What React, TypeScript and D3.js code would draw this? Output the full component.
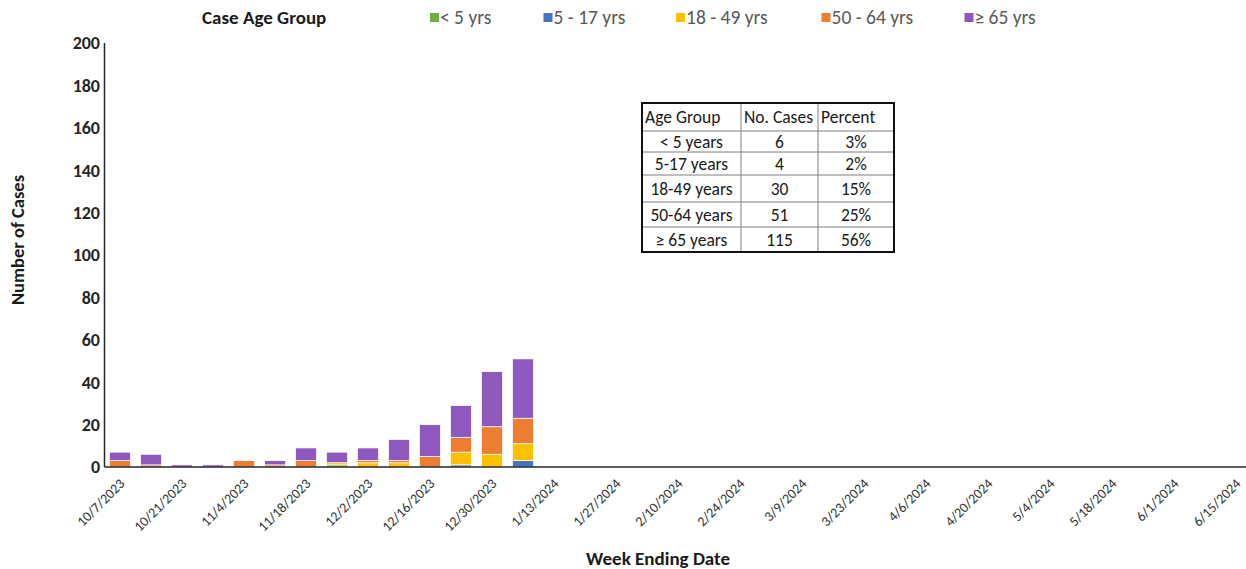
import React from "react";
import * as d3 from "d3";

const weekDates = [
  "10/7/2023", "10/14/2023", "10/21/2023", "10/28/2023", "11/4/2023", "11/11/2023",
  "11/18/2023", "11/25/2023", "12/2/2023", "12/9/2023", "12/16/2023", "12/23/2023",
  "12/30/2023", "1/6/2024", "1/13/2024", "1/20/2024", "1/27/2024", "2/3/2024",
  "2/10/2024", "2/17/2024", "2/24/2024", "3/2/2024", "3/9/2024", "3/16/2024",
  "3/23/2024", "3/30/2024", "4/6/2024", "4/13/2024", "4/20/2024", "4/27/2024",
  "5/4/2024", "5/11/2024", "5/18/2024", "5/25/2024", "6/1/2024", "6/8/2024", "6/15/2024",
];

const tickLabels = [
  "10/7/2023", "10/21/2023", "11/4/2023", "11/18/2023", "12/2/2023", "12/16/2023",
  "12/30/2023", "1/13/2024", "1/27/2024", "2/10/2024", "2/24/2024", "3/9/2024",
  "3/23/2024", "4/6/2024", "4/20/2024", "5/4/2024", "5/18/2024", "6/1/2024", "6/15/2024",
];

// weekly counts (first 14 weeks have data)
const under5 = [0, 0, 0, 0, 0, 0, 0, 1, 0, 0, 0, 0, 0, 0];
const age5to17 = [0, 0, 0, 0, 0, 0, 0, 0, 0, 0, 0, 1, 0, 3];
const age18to49 = [0, 0, 0, 0, 0, 0, 0, 1, 2, 2, 0, 6, 6, 8];
const age50to64 = [3, 1, 0, 0, 3, 1, 3, 0, 1, 1, 5, 7, 13, 12];
const age65plus = [4, 5, 1, 1, 0, 2, 6, 5, 6, 10, 15, 15, 26, 28];

const seriesNames = ["< 5 yrs", "5 - 17 yrs", "18 - 49 yrs", "50 - 64 yrs", "\u2265 65 yrs"];
const seriesColors = ["#70AD47", "#4472C4", "#FFC000", "#ED7D31", "#8E59BF"];
const seriesValues = [under5, age5to17, age18to49, age50to64, age65plus];

const yTicks = [0, 20, 40, 60, 80, 100, 120, 140, 160, 180, 200];

const tableHeader = ["Age Group", "No. Cases", "Percent"];
const tableGroups = ["< 5 years", "5-17 years", "18-49 years", "50-64 years", "\u2265 65 years"];
const tableCases = ["6", "4", "30", "51", "115"];
const tablePercent = ["3%", "2%", "15%", "25%", "56%"];

const FONT = "Carlito, Lato, 'Open Sans', sans-serif";

export default function App() {
  const W = 1246;
  const H = 569;
  const x0 = 104.5;
  const step = 31;
  const yBase = 467;
  const yTop = 43;

  const x = d3
    .scaleBand<string>()
    .domain(weekDates)
    .range([x0, x0 + step * weekDates.length])
    .paddingInner(0.32)
    .paddingOuter(0.16);
  const y = d3.scaleLinear().domain([0, 200]).range([yBase, yTop]);

  const rows = under5.map((_, i) => {
    const r: any = { date: weekDates[i] };
    seriesNames.forEach((n, k) => (r[n] = seriesValues[k][i]));
    return r;
  });
  const stacked = d3.stack<any>().keys(seriesNames)(rows);

  // legend positions
  const legendX = [430, 543.5, 676, 821.5, 964.5];

  // table layout
  const tX = [642, 741, 818, 894];
  const tY = [103, 131, 152, 175, 202, 227, 252];

  return (
    <svg
      width={W}
      height={H}
      style={{ position: "absolute", left: 0, top: 0, background: "#fff" }}
      fontFamily={FONT}
    >
      <rect width={W} height={H} fill="#fff" />
      {/* legend */}
      <text x={202} y={24} fontSize={19} fontWeight="bold" fill="#1a1a1a">
        Case Age Group
      </text>
      {seriesNames.map((n, k) => (
        <g key={n}>
          <rect x={legendX[k]} y={13} width={9} height={9} fill={seriesColors[k]} />
          <text x={legendX[k] + 10} y={24} fontSize={19.5} fill="#595959">
            {n}
          </text>
        </g>
      ))}

      {/* bars */}
      {stacked.map((s, k) => (
        <g key={s.key} fill={seriesColors[k]}>
          {s.map((d, i) =>
            d[1] - d[0] > 0 ? (
              <rect
                key={i}
                x={x(weekDates[i])}
                y={y(d[1])}
                width={x.bandwidth()}
                height={y(d[0]) - y(d[1])}
                stroke="#fff"
                strokeWidth={0.75}
              />
            ) : null
          )}
        </g>
      ))}

      {/* axes */}
      <line x1={x0} x2={x0} y1={yTop} y2={yBase} stroke="#262626" strokeWidth={1.5} />
      <line x1={x0} x2={W} y1={yBase} y2={yBase} stroke="#262626" strokeWidth={1.5} />

      {yTicks.map((t) => (
        <text
          key={t}
          x={100}
          y={y(t)}
          dy="0.35em"
          textAnchor="end"
          fontSize={18}
          fontWeight="bold"
          fill="#262626"
        >
          {t}
        </text>
      ))}

      {tickLabels.map((lbl) => {
        const cx = (x(lbl) as number) + x.bandwidth() / 2;
        return (
          <text
            key={lbl}
            transform={`translate(${cx + 2},${481}) rotate(-45)`}
            textAnchor="end"
            dy="0.35em"
            fontSize={14}
            fill="#333"
          >
            {lbl}
          </text>
        );
      })}

      <text
        transform={`translate(24,240) rotate(-90)`}
        textAnchor="middle"
        fontSize={18.5}
        fontWeight="bold"
        fill="#1a1a1a"
      >
        Number of Cases
      </text>
      <text x={658} y={565} textAnchor="middle" fontSize={19} fontWeight="bold" fill="#1a1a1a">
        Week Ending Date
      </text>

      {/* table */}
      <g fontSize={17.5} fill="#1a1a1a">
        {tY.slice(1, -1).map((yy, i) => (
          <line key={"h" + i} x1={tX[0]} x2={tX[3]} y1={yy} y2={yy} stroke="#7f7f7f" strokeWidth={1} />
        ))}
        {tX.slice(1, -1).map((xx, i) => (
          <line key={"v" + i} x1={xx} x2={xx} y1={tY[0]} y2={tY[6]} stroke="#7f7f7f" strokeWidth={1} />
        ))}
        <rect
          x={tX[0]}
          y={tY[0]}
          width={tX[3] - tX[0]}
          height={tY[6] - tY[0]}
          fill="none"
          stroke="#111"
          strokeWidth={2}
        />
        {tableHeader.map((h, c) => (
          <text key={h} x={tX[c] + 3} y={(tY[0] + tY[1]) / 2} dy="0.35em">
            {h}
          </text>
        ))}
        {tableGroups.map((g, r) => {
          const cy = (tY[r + 1] + tY[r + 2]) / 2;
          return (
            <g key={g}>
              <text x={(tX[0] + tX[1]) / 2} y={cy} dy="0.35em" textAnchor="middle">
                {g}
              </text>
              <text x={(tX[1] + tX[2]) / 2} y={cy} dy="0.35em" textAnchor="middle">
                {tableCases[r]}
              </text>
              <text x={(tX[2] + tX[3]) / 2} y={cy} dy="0.35em" textAnchor="middle">
                {tablePercent[r]}
              </text>
            </g>
          );
        })}
      </g>
    </svg>
  );
}
